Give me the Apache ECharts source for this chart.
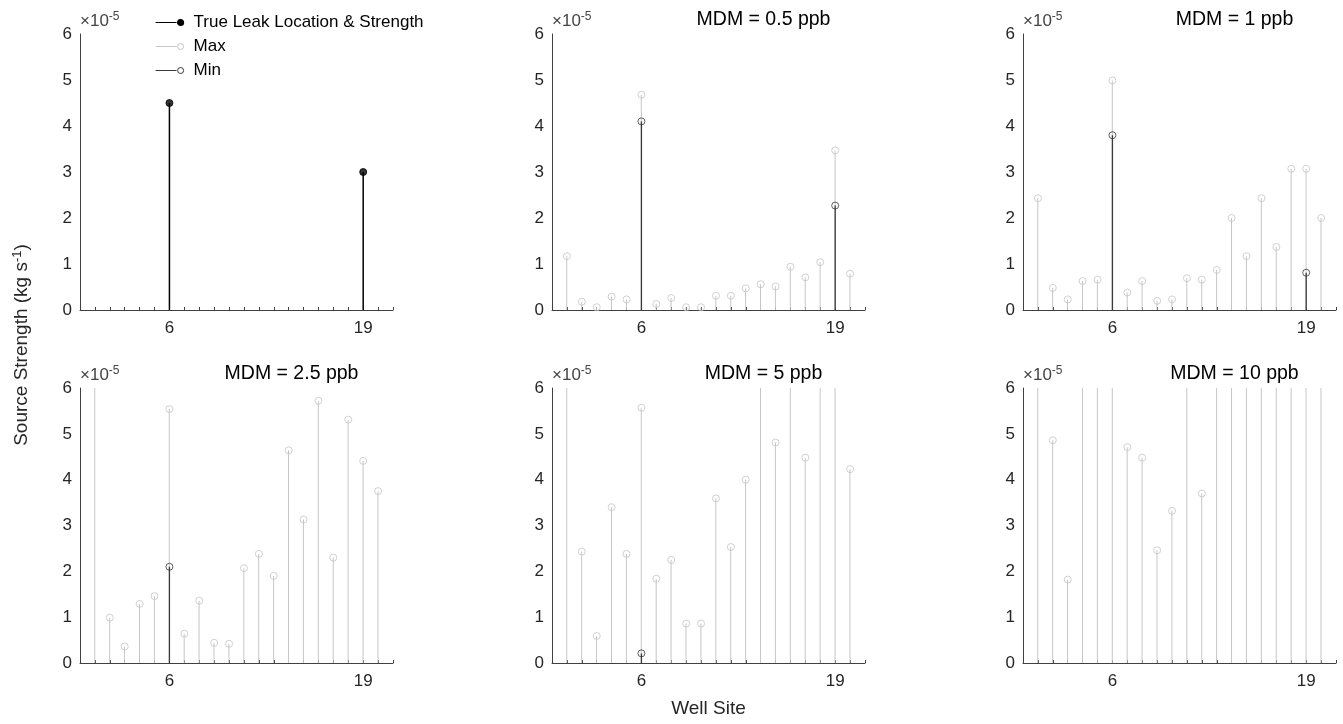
<!DOCTYPE html>
<html>
<head>
<meta charset="utf-8">
<script src="https://cdn.jsdelivr.net/npm/echarts@6/dist/echarts.min.js"></script>
<style>
  html, body { margin: 0; padding: 0; background: #fff; }
  #chart { width: 1343px; height: 724px; }
</style>
</head>
<body>
<div id="chart"></div>
<script>
// values are in units of 1e-5 kg s^-1 ; 8 = off the top of the axis (clipped)
const sites = [1, 2, 3, 4, 5, 6, 7, 8, 9, 10, 11, 12, 13, 14, 15, 16, 17, 18, 19, 20]
const tickSites = [6, 19]
const yTicks = [0, 1, 2, 3, 4, 5, 6]

const trueSites = [6, 19]
const trueStrength = [4.5, 3.0]

const mdmTitles = ['MDM = 0.5 ppb', 'MDM = 1 ppb', 'MDM = 2.5 ppb', 'MDM = 5 ppb', 'MDM = 10 ppb']

const max05 = [1.17, 0.18, 0.06, 0.29, 0.23, 4.68, 0.13, 0.26, 0.06, 0.06, 0.31, 0.31, 0.47, 0.56, 0.51, 0.94, 0.71, 1.04, 3.47, 0.79]
const max1 = [2.43, 0.48, 0.23, 0.63, 0.66, 4.99, 0.38, 0.63, 0.20, 0.23, 0.69, 0.66, 0.87, 2.0, 1.17, 2.43, 1.37, 3.07, 3.07, 2.0]
const max25 = [8, 0.99, 0.36, 1.29, 1.46, 5.54, 0.64, 1.36, 0.44, 0.42, 2.07, 2.38, 1.90, 4.64, 3.13, 5.72, 2.30, 5.31, 4.41, 3.75]
const max5 = [8, 2.43, 0.59, 3.40, 2.38, 5.57, 1.84, 2.25, 0.86, 0.86, 3.59, 2.53, 4.00, 8, 4.81, 8, 4.48, 8, 8, 4.23]
const max10 = [8, 4.86, 1.82, 8, 8, 8, 4.71, 4.48, 2.46, 3.32, 8, 3.70, 8, 8, 8, 8, 8, 8, 8, 8]

const min05Sites = [6, 19]
const min05 = [4.10, 2.27]
const min1Sites = [6, 19]
const min1 = [3.80, 0.81]
const min25Sites = [6]
const min25 = [2.10]
const min5Sites = [6]
const min5 = [0.21]
const min10Sites = []
const min10 = []

const maxSets = [max05, max1, max25, max5, max10]
const minSets = [[min05Sites, min05], [min1Sites, min1], [min25Sites, min25], [min5Sites, min5], [min10Sites, min10]]

const FONT = 'Liberation Sans, Arial, Helvetica, sans-serif'
const AXIS_COLOR = '#404040'
const TRUE_COLOR = '#000000'
const MAX_COLOR = '#c6c6c6'
const MIN_COLOR = '#3a3a3a'

// panel positions: [left, top, height]
const panels = [
  [80, 34, 276], [552, 34, 276], [1023, 34, 276],
  [80, 388, 275], [552, 388, 275], [1023, 388, 275]
]
const PW = 313

const chart = echarts.init(document.getElementById('chart'))

const grid = panels.map(p => ({ left: p[0], top: p[1], width: PW, height: p[2], outerBoundsMode: 'none' }))

const xAxis = panels.map((p, i) => ({
  type: 'value',
  gridIndex: i,
  min: 0,
  max: 21,
  interval: 1,
  axisLine: { lineStyle: { color: AXIS_COLOR, width: 1 } },
  axisTick: { inside: true, length: 3, lineStyle: { color: AXIS_COLOR } },
  axisLabel: {
    color: '#262626', fontSize: 17, fontFamily: FONT, margin: 10,
    formatter: v => (tickSites.indexOf(v) >= 0 ? String(v) : '')
  },
  splitLine: { show: false },
  name: i === 4 ? 'Well Site' : '',
  nameLocation: 'middle',
  nameGap: 36,
  nameTextStyle: { color: '#262626', fontSize: 19, fontFamily: FONT }
}))

const yAxis = panels.map((p, i) => ({
  type: 'value',
  gridIndex: i,
  min: yTicks[0],
  max: yTicks[yTicks.length - 1],
  interval: 1,
  axisLine: { show: true, lineStyle: { color: AXIS_COLOR, width: 1 } },
  axisTick: { show: false },
  axisLabel: { color: '#262626', fontSize: 17, fontFamily: FONT, margin: 8 },
  splitLine: { show: false },
  name: '{a|×10}{b|-5}',
  nameLocation: 'end',
  nameGap: 3,
  nameTextStyle: {
    align: 'left',
    verticalAlign: 'bottom',
    rich: {
      a: { fontSize: 17, fontFamily: FONT, color: '#444' },
      b: { fontSize: 12, fontFamily: FONT, color: '#444', verticalAlign: 'top', padding: [0, 0, 8, 0] }
    }
  }
}))

const series = []
function stem(name, gi, xs, ys, color, width, filled) {
  const pts = xs.map((x, k) => [x, ys[k]])
  series.push({
    name: name,
    type: 'bar',
    xAxisIndex: gi,
    yAxisIndex: gi,
    barWidth: width,
    barGap: '-100%',
    clip: true,
    itemStyle: { color: color },
    emphasis: { disabled: true },
    data: pts
  })
  series.push({
    name: name,
    type: 'scatter',
    xAxisIndex: gi,
    yAxisIndex: gi,
    symbol: 'circle',
    symbolSize: 7,
    clip: true,
    itemStyle: filled
      ? { color: color, borderColor: color, borderWidth: 1 }
      : { color: 'transparent', borderColor: color, borderWidth: 1 },
    emphasis: { disabled: true },
    data: pts
  })
}

stem('True Leak Location & Strength', 0, trueSites, trueStrength, TRUE_COLOR, 1.5, true)
maxSets.forEach((vals, k) => stem('Max', k + 1, sites, vals, MAX_COLOR, 1, false))
minSets.forEach((m, k) => stem('Min', k + 1, m[0], m[1], MIN_COLOR, 1.3, false))

const legendIcon = 'path://M0,4L21,4M22,4a3,3 0 1,0 6,0a3,3 0 1,0 -6,0'

const title = mdmTitles.map((t, k) => {
  const p = panels[k + 1]
  return {
    text: t,
    left: p[0] + PW / 2 + 50,
    top: p[1] - 29,
    textAlign: 'center',
    textStyle: { color: '#000', fontSize: 19.5, fontWeight: 'normal', fontFamily: FONT }
  }
})

chart.setOption({
  animation: false,
  backgroundColor: '#fff',
  title: title,
  grid: grid,
  xAxis: xAxis,
  yAxis: yAxis,
  legend: {
    left: 155,
    top: 13,
    padding: 0,
    orient: 'vertical',
    itemWidth: 28,
    itemHeight: 6,
    itemGap: 5,
    selectedMode: false,
    textStyle: { color: '#000', fontSize: 17, fontFamily: FONT, lineHeight: 19, padding: [0, 0, 0, 5] },
    data: [
      { name: 'True Leak Location & Strength', icon: legendIcon, itemStyle: { color: TRUE_COLOR, borderColor: TRUE_COLOR, borderWidth: 1.2 } },
      { name: 'Max', icon: legendIcon, itemStyle: { color: 'transparent', borderColor: MAX_COLOR, borderWidth: 1 } },
      { name: 'Min', icon: legendIcon, itemStyle: { color: 'transparent', borderColor: MIN_COLOR, borderWidth: 1 } }
    ]
  },
  graphic: [{
    type: 'text',
    x: 22,
    y: 345,
    rotation: Math.PI / 2,
    style: {
      text: '{n|Source Strength (kg s}{s|-1}{n|)}',
      align: 'center',
      verticalAlign: 'middle',
      rich: {
        n: { fontSize: 19, fontFamily: FONT, fill: '#262626' },
        s: { fontSize: 13, fontFamily: FONT, fill: '#262626', padding: [0, 0, 9, 0] }
      }
    }
  }],
  series: series
})
</script>
</body>
</html>
